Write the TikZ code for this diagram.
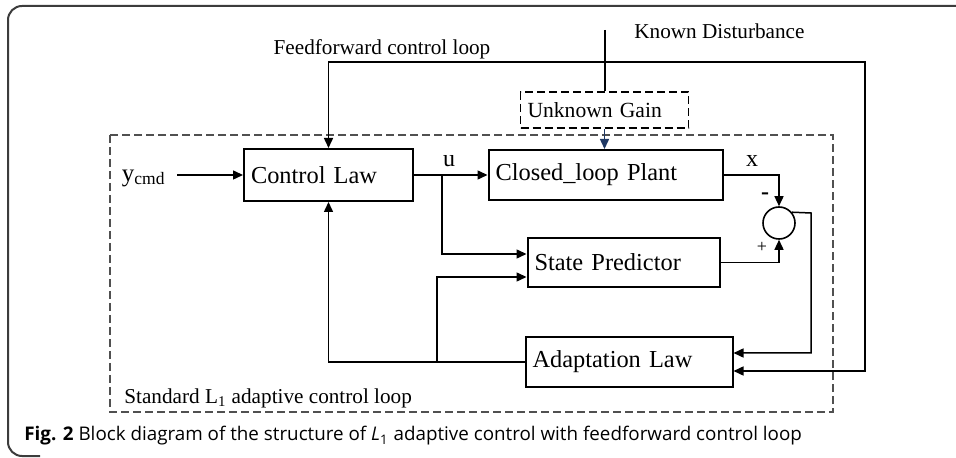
\documentclass[tikz,border=0pt]{standalone}
\usepackage{fontspec}
\setmainfont{Liberation Serif}
\newfontfamily\capfont{Open Sans}
\usetikzlibrary{arrows.meta}

\tikzset{
  block/.style={draw, line width=1pt, align=left, inner xsep=3.5pt,
    font=\fontsize{12.2}{14}\selectfont},
  gainbox/.style={draw, dashed, dash pattern=on 4pt off 2pt, line width=0.9pt,
    align=left, inner xsep=3.5pt, font=\fontsize{10.8}{13}\selectfont},
  sumjunc/.style={draw, circle, line width=0.8pt, minimum size=16pt, inner sep=0pt},
  lbl/.style={font=\fontsize{10.6}{12}\selectfont, inner sep=0pt},
  sig/.style={line width=0.75pt, -{Triangle[length=5pt,width=4.5pt]}},
  wire/.style={line width=0.75pt}
}

\begin{document}
\begin{tikzpicture}[x=0.5pt, y=-0.5pt]
  \definecolor{framegray}{RGB}{60,60,60}
  \definecolor{loopgray}{RGB}{80,80,80}
  \definecolor{gainblue}{RGB}{31,56,100}
  \useasboundingbox (0,0) rectangle (956,458);

  % outer frame
  \draw [framegray, line width=1pt, rounded corners=7pt] (960,6) -- (8,6) -- (8,456) -- (40,456);

  % standard loop
  \draw [loopgray, line width=0.8pt, dash pattern=on 4pt off 2pt] (110,135) rectangle (833,412);
  \node [lbl, anchor=west] (stdlab) at (124,398) {Standard L\textsubscript{1} adaptive control loop};

  % blocks
  \node [block, text width=77.5pt, minimum height=26pt] (ctrl) at (328.5,175) {Control Law};
  \node [block, text width=110pt, minimum height=25pt] (plant) at (605.5,175) {Closed\_loop Plant};
  \node [gainbox, text width=77pt, minimum height=18pt] (gain) at (604.5,110) {Unknown Gain};
  \node [block, text width=89pt, minimum height=24.5pt] (pred) at (623.5,262.5) {State Predictor};
  \node [block, text width=96.5pt, minimum height=25pt] (adapt) at (629,362) {Adaptation Law};
  \node [sumjunc] (sum) at (779,223) {};

  % labels
  \node [lbl, anchor=east, font=\fontsize{12.5}{14}\selectfont] (ycmd) at (166,178) {y\textsubscript{cmd}};
  \node [lbl, font=\fontsize{12}{14}\selectfont] (ulab) at (449,161) {u};
  \node [lbl, font=\fontsize{12}{14}\selectfont] (xlab) at (752,161) {x};
  \node [lbl, font=\fontsize{12}{12}\selectfont\bfseries] (minus) at (765,196) {-};
  \node [lbl, font=\fontsize{9}{10}\selectfont] (plus) at (762,247) {+};
  \node [lbl] (fflab) at (382,49) {Feedforward control loop};
  \node [lbl, anchor=west] (kdlab) at (634,31) {Known Disturbance};

  \coordinate (kd) at (605,30);
  \coordinate (ffc) at (865,62);
  \coordinate (uj) at (442,175);
  \coordinate (aj) at (437,362);
  \coordinate (ec) at (811,213);

  % connectors
  \draw [sig] (177,175) -- (ctrl.west);
  \draw [sig] (ctrl.east) -- (plant.west);
  \draw [wire] (kd) -- (kd |- gain.north);
  \draw [sig, gainblue] (gain.south) -- (gain.south |- plant.north);
  \draw [sig] (plant.east) -| (sum.north);
  \draw [sig] (pred.east) -| (sum.south);
  \draw [sig] (sum.40) -- (ec) |- ([yshift=4.5pt]adapt.east);
  \draw [sig] (uj) |- ([yshift=4.25pt]pred.west);
  \draw [sig] (aj) |- ([yshift=-7.25pt]pred.west);
  \draw [sig] (adapt.west) -| (ctrl.south);
  \draw [line width=0.75pt, {Triangle[length=5pt,width=4.5pt]}-{Triangle[length=5pt,width=4.5pt]}]
    ([yshift=-4.5pt]adapt.east) -| (ffc) -| (ctrl.north);

  % caption
  \node [anchor=west, inner sep=0pt, font=\capfont\fontsize{9.4}{11}\selectfont] (cap) at (24,436)
    {\textbf{Fig. 2} Block diagram of the structure of \textit{L}\textsubscript{1} adaptive control with feedforward control loop};
\end{tikzpicture}
\end{document}
